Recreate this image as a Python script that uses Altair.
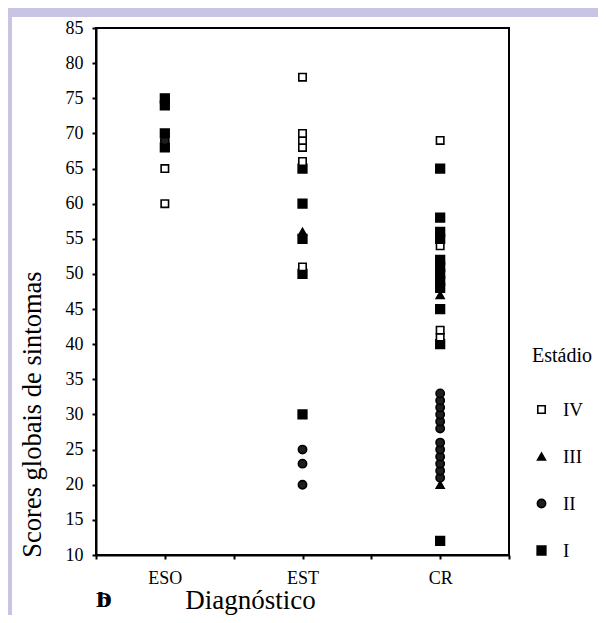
import altair as alt
import pandas as pd

# ---- data ----
categories = ["ESO", "EST", "CR"]
stages = ["IV", "III", "II", "I"]

eso_scores = [75, 74, 70, 69, 68, 65, 60]
eso_stages = ["I", "I", "I", "II", "I", "IV", "IV"]

est_scores = [78, 70, 69, 68, 66, 65, 60, 56, 55, 51, 50, 30, 25, 23, 20]
est_stages = ["IV", "IV", "IV", "IV", "IV", "I", "I", "III", "I", "IV", "I", "I", "II", "II", "II"]

cr_scores = [69, 65, 58, 56, 55, 54, 52, 51, 50, 49, 48, 47, 45, 42, 41, 40,
             33, 32, 31, 30, 29, 28, 26, 25, 24, 23, 22, 21, 20, 12]
cr_stages = ["IV", "I", "I", "I", "I", "IV", "I", "I", "I", "I", "I", "III", "I", "IV", "IV", "I",
             "II", "II", "II", "II", "II", "II", "II", "II", "II", "II", "II", "II", "III", "I"]

y_ticks = list(range(10, 90, 5))

rows = []
for cat, sc, st in [("ESO", eso_scores, eso_stages), ("EST", est_scores, est_stages), ("CR", cr_scores, cr_stages)]:
    for s, g in zip(sc, st):
        rows.append({"Diagnóstico": cat, "score": s, "Estádio": g})
df = pd.DataFrame(rows)

FONT = "'Liberation Serif', 'Times New Roman', 'DejaVu Serif', serif"
LAV = "#c8c4e4"

points = alt.Chart(df).transform_calculate(
    pos="indexof(['ESO','EST','CR'], datum['Diagnóstico']) * 2 + 1"
).mark_point(filled=True, stroke="black", strokeWidth=1.6, opacity=1).encode(
    x=alt.X("pos:Q", scale=alt.Scale(domain=[0, 6], nice=False, zero=False),
            axis=alt.Axis(values=[0, 1, 2, 3, 4, 5, 6], grid=False,
                          labelExpr="datum.value == 1 ? 'ESO' : datum.value == 3 ? 'EST' : datum.value == 5 ? 'CR' : ''",
                          title="Diagnóstico", titleX=154, titleY=53, titleBaseline="alphabetic",
                          titleFontSize=27, labelPadding=10, labelFont=FONT, titleFont=FONT)),
    y=alt.Y("score:Q", scale=alt.Scale(domain=[10, 85], nice=False, zero=False),
            axis=alt.Axis(values=y_ticks, grid=False, title="Scores globais de sintomas",
                          titleX=-50, titleY=386, titleFontSize=26.5, labelPadding=9,
                          labelFont=FONT, titleFont=FONT)),
    shape=alt.Shape("Estádio:N", scale=alt.Scale(domain=stages, range=["square", "triangle-up", "circle", "square"]),
                    legend=alt.Legend(orient="none", legendX=436, legendY=318, title="Estádio",
                                      titleFontSize=20, titleFont=FONT, titleFontWeight="normal",
                                      titleColor="black", titlePadding=34, labelFontSize=19, labelFont=FONT,
                                      labelColor="black", rowPadding=27, labelOffset=12, padding=0,
                                      symbolStrokeWidth=1.6)),
    fill=alt.Fill("Estádio:N", scale=alt.Scale(domain=stages, range=["white", "black", "#1e1e1e", "black"])),
    size=alt.Size("Estádio:N", scale=alt.Scale(domain=stages, range=[55, 75, 100, 55])),
    order=alt.Order("score:Q"),
)

band_df = pd.DataFrame({"a": [0]})
top_band = alt.Chart(band_df).mark_rect(color=LAV).encode(
    x=alt.value(-88), x2=alt.value(502), y=alt.value(-20), y2=alt.value(-11))
left_band = alt.Chart(band_df).mark_rect(color=LAV).encode(
    x=alt.value(-88), x2=alt.value(-84), y=alt.value(-11), y2=alt.value(587))

glyph_df = pd.DataFrame({"t": ["D", "b"]})
glyph = alt.Chart(glyph_df).mark_text(font=FONT, fontSize=22, fontWeight="bold", color="black",
                                      align="center", baseline="middle").encode(
    text="t:N", x=alt.value(8), y=alt.value(572))

chart = alt.layer(top_band, left_band, points, glyph).properties(
    width=413, height=527,
    autosize=alt.AutoSizeParams(type="none"),
    padding={"left": 88, "top": 20, "right": 89, "bottom": 60},
    background="white",
).configure(
    font=FONT
).configure_view(
    stroke="black", strokeWidth=2
).configure_axis(
    labelFont=FONT, titleFont=FONT, labelFontSize=18, labelColor="black",
    titleColor="black", titleFontWeight="normal",
    domainColor="black", domainWidth=2, tickColor="black", tickWidth=2, tickSize=4,
).configure_legend(
    titleFont=FONT, labelFont=FONT
)

chart.save("out.html", embed_options={"renderer": "svg", "actions": False})
